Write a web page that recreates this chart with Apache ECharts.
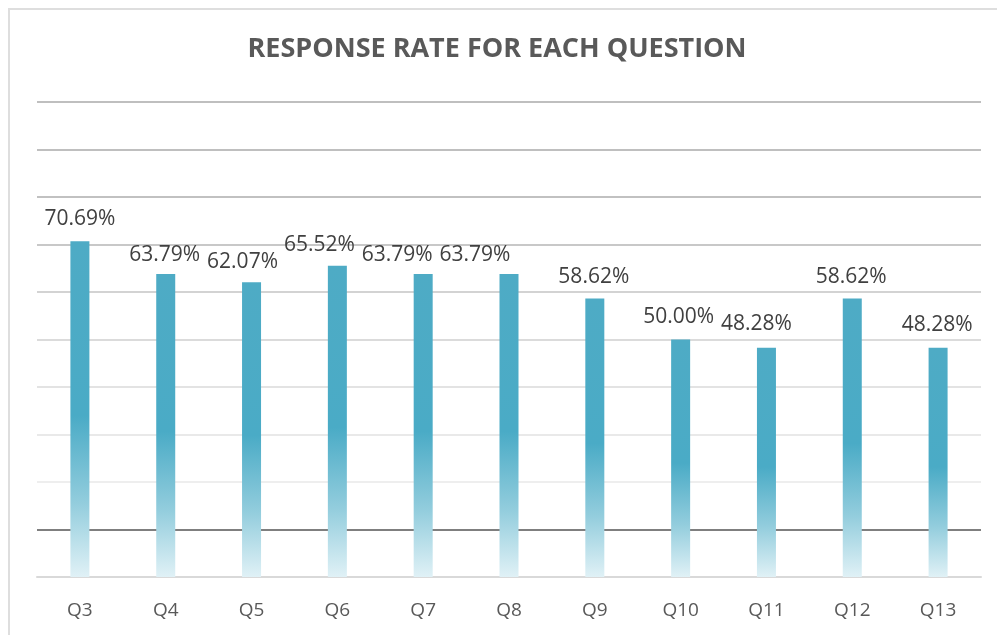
<!DOCTYPE html>
<html>
<head>
<meta charset="utf-8">
<script src="https://cdn.jsdelivr.net/npm/echarts@6/dist/echarts.min.js"></script>
<style>
html,body{margin:0;padding:0;background:#fff;}
#chart{width:997px;height:635px;}
</style>
</head>
<body>
<div id="chart"></div>
<script>
var chartTitle = 'RESPONSE RATE FOR EACH QUESTION';
var categories = ['Q3', 'Q4', 'Q5', 'Q6', 'Q7', 'Q8', 'Q9', 'Q10', 'Q11', 'Q12', 'Q13'];
var responseRate = [70.69, 63.79, 62.07, 65.52, 63.79, 63.79, 58.62, 50.00, 48.28, 58.62, 48.28];
var axisMin = 0;
var axisMax = 100;
var axisStep = 10;

// label nudges (styling only), matching the hand-placed labels of the original
var labelNudge = [[0,-2],[-1,2],[-9,0],[-18,0],[-26,2],[-34,2],[-1,-1],[-2,-2],[-10,-3],[-1,-1],[-1,-2]];

var chart = echarts.init(document.getElementById('chart'), null, {renderer: 'canvas'});

var barGradient = new echarts.graphic.LinearGradient(0, 0, 0, 1, [
  {offset: 0, color: '#4eabc5'},
  {offset: 0.52, color: '#4aabc6'},
  {offset: 0.78, color: '#93cddd'},
  {offset: 1, color: '#e0f1f6'}
]);

var seriesData = responseRate.map(function (v, i) {
  return {
    value: v,
    label: {offset: labelNudge[i]}
  };
});

var option = {
  backgroundColor: '#ffffff',
  animation: false,
  title: {
    text: chartTitle,
    left: 492,
    top: 31,
    textAlign: 'center',
    textStyle: {
      fontFamily: 'Open Sans',
      fontSize: 27,
      fontWeight: 'bold',
      color: '#595959'
    }
  },
  graphic: [{
    type: 'rect',
    shape: {x: 9, y: 9, width: 1000, height: 700},
    style: {fill: 'none', stroke: '#dedede', lineWidth: 2},
    silent: true,
    z: -10
  }],
  grid: {left: 37, right: 16, top: 102, bottom: 58, containLabel: false},
  xAxis: {
    type: 'category',
    data: categories,
    axisLine: {show: true, lineStyle: {color: '#d9d9d9', width: 2}},
    axisTick: {show: false},
    axisLabel: {
      margin: 24,
      fontFamily: 'Open Sans',
      fontSize: 19,
      color: '#595959'
    }
  },
  yAxis: {
    type: 'value',
    min: axisMin,
    max: axisMax,
    interval: axisStep,
    axisLine: {show: false},
    axisTick: {show: false},
    axisLabel: {show: false},
    splitLine: {
      show: true,
      lineStyle: {
        width: 2,
        color: ['#d9d9d9', '#7f7f7f', '#eeeeee', '#e9e9e9', '#e3e3e3', '#dbdbdb', '#d3d3d3', '#c8c8c8', '#c1c1c1', '#bfbfbf', '#bfbfbf']
      }
    }
  },
  series: [{
    type: 'bar',
    data: seriesData,
    barWidth: 19,
    itemStyle: {color: barGradient},
    label: {
      show: true,
      position: 'top',
      distance: 10,
      fontFamily: 'Open Sans',
      fontSize: 21,
      color: '#404040',
      formatter: function (p) { return p.value.toFixed(2) + '%'; }
    },
    z: 3
  }]
};

chart.setOption(option);
</script>
</body>
</html>
